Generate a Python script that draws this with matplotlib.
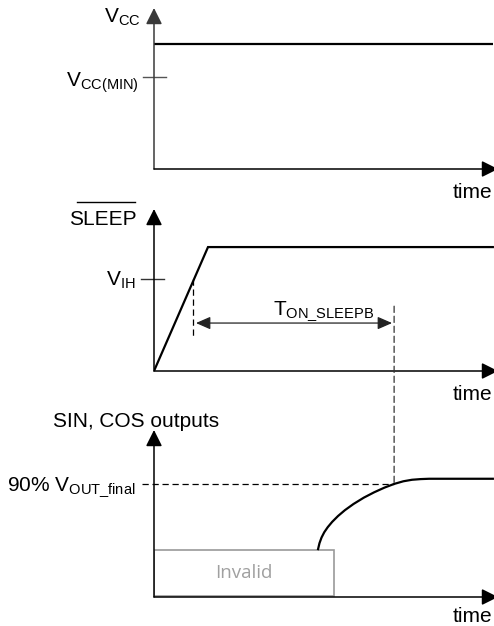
import matplotlib.pyplot as plt
from matplotlib.patches import Rectangle, ConnectionPatch

plt.rcParams['font.family'] = ['Liberation Sans', 'DejaVu Sans']
plt.rcParams['mathtext.default'] = 'regular'

W, H = 494, 626

# --- timing data (time in arbitrary units, level = fraction of axis height)
vcc_t = [0.0, 9.85]
vcc_level = [0.776, 0.776]
vcc_min = 0.571

sleep_t = [0.0, 1.57, 9.85]
sleep_level = [0.0, 0.765, 0.765]
v_ih = 0.568
t_vih = 1.13          # where SLEEP crosses V_IH
t_on_end = 6.98       # end of T_ON_SLEEPB
t_on_level = 0.296    # height of the T_ON arrow

out_t = [4.77, 4.81, 4.87, 4.95, 5.05, 5.18, 5.35, 5.55, 5.80, 6.10,
         6.40, 6.70, 6.98, 7.25, 7.50, 7.75, 8.00, 9.85]
out_level = [0.287, 0.322, 0.356, 0.388, 0.418, 0.450, 0.485, 0.520, 0.557, 0.595,
             0.627, 0.655, 0.677, 0.693, 0.702, 0.706, 0.708, 0.708]
out_90 = 0.677
invalid_t = [0.0, 5.23]
invalid_level = [0.006, 0.281]

# --- layout in pixels: (top, bottom) of each panel's y axis
x_left, x_right = 154, 498
panels = [(8, 169), (209, 371), (430, 597)]

fig = plt.figure(figsize=(W / 100, H / 100), dpi=100)


def make_axes(top, bottom):
    ax = fig.add_axes([x_left / W, 1 - bottom / H, (x_right - x_left) / W, (bottom - top) / H])
    ax.set_xlim(0, 10)
    ax.set_ylim(0, 1)
    ax.axis('off')
    return ax


def draw_arrows(ax, ycolor='black'):
    head = '-|>,head_length=0.9,head_width=0.45'
    ax.annotate('', xy=(0, 1), xytext=(0, 0), xycoords='axes fraction',
                arrowprops=dict(arrowstyle=head, color=ycolor, lw=1.1,
                                mutation_scale=11, shrinkA=0, shrinkB=0))
    ax.annotate('', xy=(1, 0), xytext=(0, 0), xycoords='axes fraction',
                arrowprops=dict(arrowstyle=head, color='black', lw=1.1,
                                mutation_scale=11, shrinkA=0, shrinkB=0))


def ftext(x, y, s, **kw):
    kw.setdefault('fontsize', 15)
    kw.setdefault('va', 'baseline')
    fig.text(x / W, 1 - y / H, s, **kw)


ax1 = make_axes(*panels[0])
ax2 = make_axes(*panels[1])
ax3 = make_axes(*panels[2])

# panel 1: VCC
draw_arrows(ax1, ycolor='#3a3a3a')
ax1.plot(vcc_t, vcc_level, color='black', lw=1.6, solid_capstyle='butt')
ax1.plot([-0.32, 0.35], [vcc_min, vcc_min], color='#555555', lw=1.0, clip_on=False)

# panel 2: SLEEP
draw_arrows(ax2)
ax2.plot(sleep_t, sleep_level, color='black', lw=1.6, solid_joinstyle='miter')
ax2.plot([-0.38, 0.29], [v_ih, v_ih], color='#333333', lw=1.0, clip_on=False)
ax2.plot([t_vih, t_vih], [v_ih, 0.21], color='black', lw=0.9, ls=(0, (5, 3)))
ax2.annotate('', xy=(t_on_end - 0.06, t_on_level), xytext=(t_vih + 0.09, t_on_level),
             arrowprops=dict(arrowstyle='<|-|>,head_length=0.8,head_width=0.35',
                             color='#222222', lw=0.9, mutation_scale=11,
                             shrinkA=0, shrinkB=0))

# panel 3: outputs
draw_arrows(ax3)
ax3.add_patch(Rectangle((invalid_t[0], invalid_level[0]), invalid_t[1] - invalid_t[0],
                        invalid_level[1] - invalid_level[0], fill=False,
                        edgecolor='#999999', lw=1.2))
ax3.text(sum(invalid_t) / 2, sum(invalid_level) / 2, 'Invalid', ha='center', va='center',
         fontsize=13.5, color='#a0a0a0', family='Open Sans')
ax3.plot([-0.35, t_on_end], [out_90, out_90], color='black', lw=0.9,
         ls=(0, (5, 3)), clip_on=False)
ax3.plot(out_t, out_level, color='black', lw=1.6, solid_joinstyle='round')

# dashed marker linking T_ON end to the 90% point
con = ConnectionPatch(xyA=(t_on_end, 0.40), coordsA=ax2.transData,
                      xyB=(t_on_end, out_90), coordsB=ax3.transData,
                      color='#333333', lw=0.9, ls=(0, (5, 3)))
fig.add_artist(con)

# labels
ftext(141, 23, 'V$_{CC}$', ha='right')
ftext(139, 87, 'V$_{CC(MIN)}$', ha='right')
ftext(137, 225, 'SLEEP', ha='right')
fig.add_artist(plt.Line2D([77 / W, 135 / W], [1 - 202 / H, 1 - 202 / H], color='black', lw=1.0))
ftext(136, 286, 'V$_{IH}$', ha='right')
ftext(273, 315, r'T$_{ON\_SLEEPB}$', ha='left')
ftext(53, 427, 'SIN, COS outputs', ha='left')
ftext(136, 491, r'90% V$_{OUT\_final}$', ha='right')
for yb in (198, 400, 622):
    ftext(492, yb, 'time', ha='right')

fig.savefig('out.png', dpi=100)
